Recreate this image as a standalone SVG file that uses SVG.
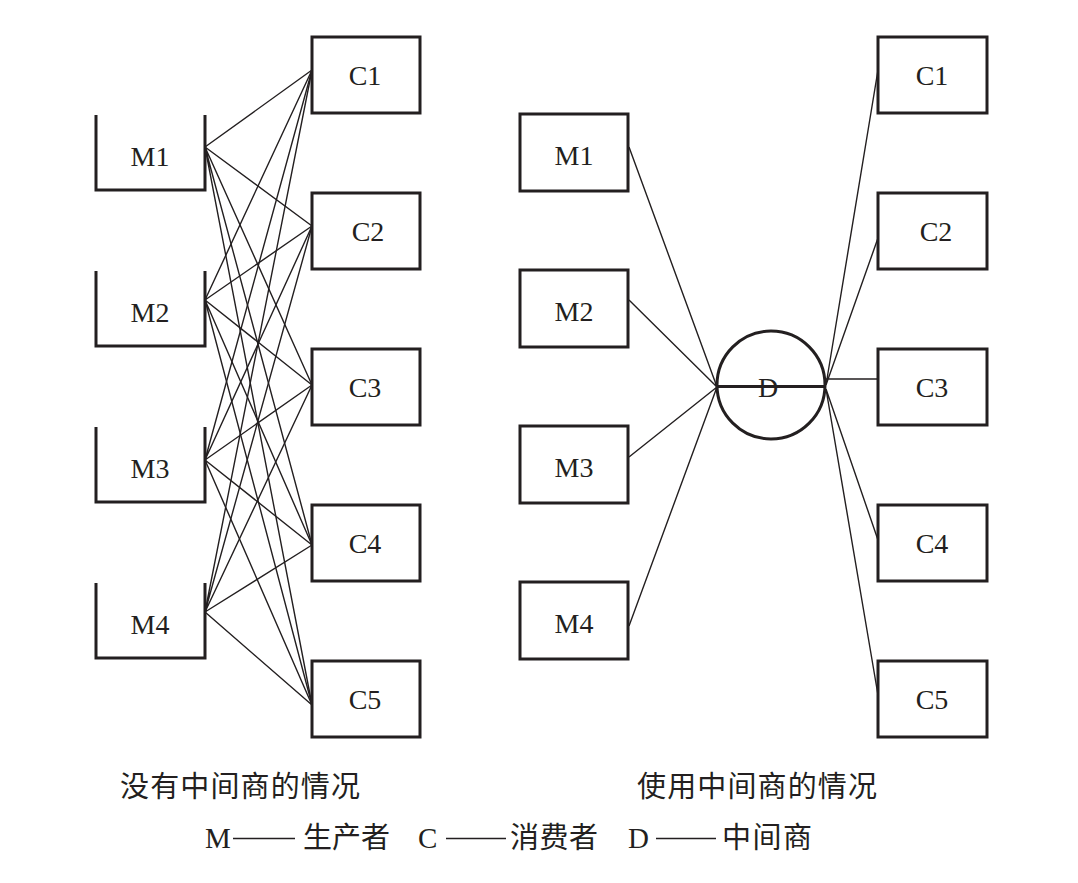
<svg xmlns="http://www.w3.org/2000/svg" width="1078" height="883" viewBox="0 0 1078 883">
<style>
.box{fill:none;stroke:#231f20;stroke-width:3}
.ln{stroke:#231f20;stroke-width:1.4;fill:none}
.lbl{font-family:"Liberation Serif",serif;font-size:28px;fill:#231f20;text-anchor:middle}
.cap{font-family:"Noto Sans CJK SC",sans-serif;font-size:29px;fill:#231f20}
.leg{font-family:"Liberation Serif","Noto Sans CJK SC",serif;font-size:29px;fill:#231f20}
</style>
<rect width="1078" height="883" fill="#fff"/>
<g id="connectors">
<path class="ln" d="M205,147L312,70M205,147L312,226M205,147L312,385M205,147L312,545M205,147L312,705"/>
<path class="ln" d="M205,300L312,70M205,300L312,226M205,300L312,385M205,300L312,545M205,300L312,705"/>
<path class="ln" d="M205,460L312,70M205,460L312,226M205,460L312,385M205,460L312,545M205,460L312,705"/>
<path class="ln" d="M205,612L312,70M205,612L312,226M205,612L312,385M205,612L312,545M205,612L312,705"/>
<path class="ln" d="M629,147L717,387M629,300L717,387M629,457L717,387M629,626L717,387"/>
<path class="ln" d="M826,385L878,70M826,385L878,238M826,379L878,379M826,389L878,540M826,389L878,695"/>
</g>
<g id="M1L"><path class="box" d="M96,115V190H205V115"/><text class="lbl" x="150" y="166">M1</text></g>
<g id="M2L"><path class="box" d="M96,271V346H205V271"/><text class="lbl" x="150" y="322">M2</text></g>
<g id="M3L"><path class="box" d="M96,427V502H205V427"/><text class="lbl" x="150" y="478">M3</text></g>
<g id="M4L"><path class="box" d="M96,583V658H205V583"/><text class="lbl" x="150" y="634">M4</text></g>
<g id="C1L"><rect class="box" x="312" y="37" width="108" height="76"/><text class="lbl" x="365" y="85">C1</text></g>
<g id="C2L"><rect class="box" x="312" y="193" width="108" height="76"/><text class="lbl" x="368" y="241">C2</text></g>
<g id="C3L"><rect class="box" x="312" y="349" width="108" height="76"/><text class="lbl" x="365" y="397">C3</text></g>
<g id="C4L"><rect class="box" x="312" y="505" width="108" height="76"/><text class="lbl" x="365" y="553">C4</text></g>
<g id="C5L"><rect class="box" x="312" y="661" width="108" height="76"/><text class="lbl" x="365" y="709">C5</text></g>
<g id="M1R"><rect class="box" x="520" y="114" width="108" height="77"/><text class="lbl" x="574" y="165">M1</text></g>
<g id="M2R"><rect class="box" x="520" y="270" width="108" height="77"/><text class="lbl" x="574" y="321">M2</text></g>
<g id="M3R"><rect class="box" x="520" y="426" width="108" height="77"/><text class="lbl" x="574" y="477">M3</text></g>
<g id="M4R"><rect class="box" x="520" y="582" width="108" height="77"/><text class="lbl" x="574" y="633">M4</text></g>
<g id="D"><circle class="box" cx="771" cy="385" r="54"/><text class="lbl" x="768" y="397">D</text><path d="M718,386.5H825" stroke="#231f20" stroke-width="3"/></g>
<g id="C1R"><rect class="box" x="878" y="37" width="109" height="76"/><text class="lbl" x="932" y="85">C1</text></g>
<g id="C2R"><rect class="box" x="878" y="193" width="109" height="76"/><text class="lbl" x="936" y="241">C2</text></g>
<g id="C3R"><rect class="box" x="878" y="349" width="109" height="76"/><text class="lbl" x="932" y="397">C3</text></g>
<g id="C4R"><rect class="box" x="878" y="505" width="109" height="76"/><text class="lbl" x="932" y="553">C4</text></g>
<g id="C5R"><rect class="box" x="878" y="661" width="109" height="76"/><text class="lbl" x="932" y="709">C5</text></g>
<g id="captions">
<text class="cap" x="120" y="797" textLength="240">没有中间商的情况</text>
<text class="cap" x="637" y="797" textLength="240">使用中间商的情况</text>
</g>
<g id="legend">
<text class="leg" x="205" y="848">M</text>
<path class="ln" d="M233,838.5H295"/>
<text class="cap" x="303" y="848" textLength="87">生产者</text>
<text class="leg" x="418" y="848">C</text>
<path class="ln" d="M446,838.5H506"/>
<text class="cap" x="510" y="848" textLength="88">消费者</text>
<text class="leg" x="628" y="848">D</text>
<path class="ln" d="M656,838.5H716"/>
<text class="cap" x="722" y="848" textLength="90">中间商</text>
</g>
</svg>
